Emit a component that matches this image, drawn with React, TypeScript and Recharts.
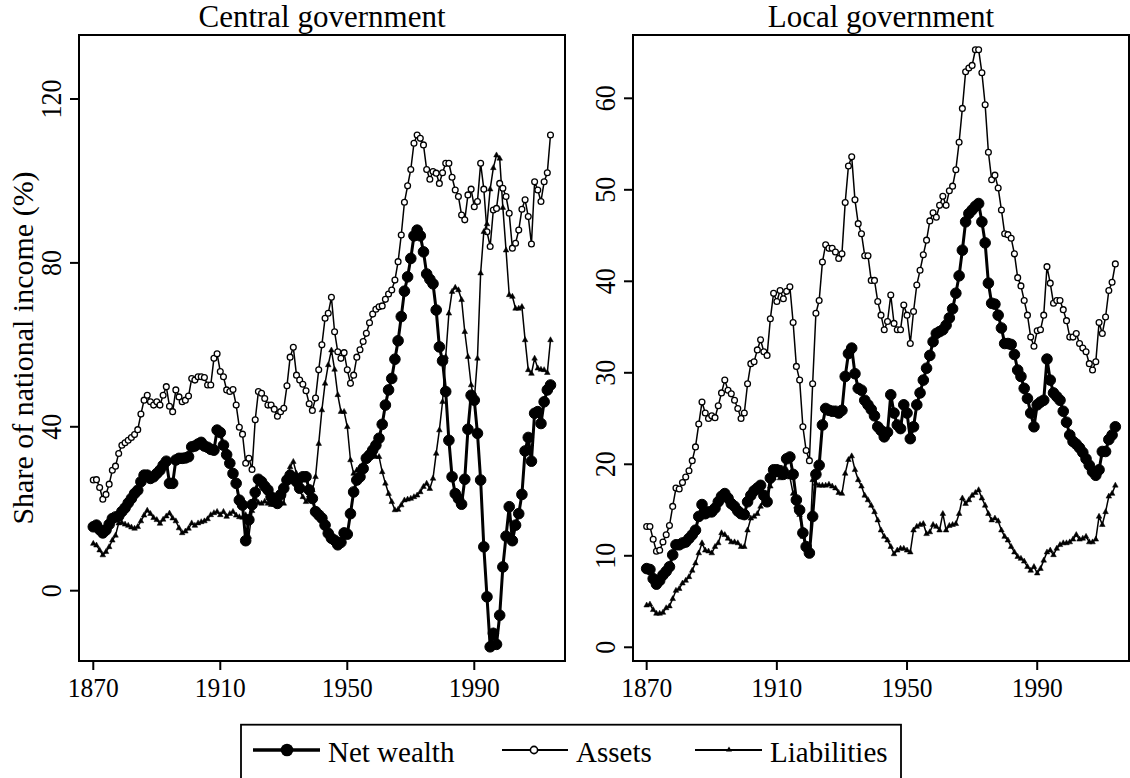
import React from 'react';
import { LineChart, Line, XAxis, YAxis, ReferenceArea } from 'recharts';

const FONT = '"Liberation Serif", "Times New Roman", Times, serif';

const START_YEAR = 1870;

// Central government (% of national income), 1870-2014
const centralNet = [
  15.6, 16.0, 14.9, 14.1, 14.8, 16.2, 17.6, 18.0, 18.2, 19.3,
  20.2, 21.4, 22.5, 23.7, 24.5, 26.6, 28.2, 28.2, 27.4, 27.8,
  28.6, 29.4, 30.6, 31.6, 26.2, 26.2, 31.9, 32.3, 32.3, 32.4,
  32.7, 35.1, 35.3, 35.8, 36.2, 35.3, 35.0, 34.5, 34.3, 39.2,
  38.6, 35.5, 33.2, 31.1, 28.6, 26.2, 22.1, 20.9, 12.2, 17.3,
  21.0, 24.0, 27.2, 26.6, 25.5, 24.6, 22.9, 22.0, 21.3, 23.4,
  25.0, 27.0, 28.2, 27.4, 26.6, 25.0, 27.8, 27.8, 24.6, 22.5,
  19.3, 18.5, 17.7, 16.0, 14.0, 12.8, 12.3, 11.2, 11.8, 14.1,
  13.8, 18.8, 24.1, 27.0, 27.8, 29.8, 32.3, 33.1, 34.3, 35.5,
  37.2, 40.6, 45.3, 49.0, 51.8, 56.5, 61.0, 66.9, 73.1, 76.6,
  81.1, 86.6, 88.0, 86.6, 82.7, 77.3, 76.0, 74.9, 68.5, 59.5,
  56.1, 48.6, 36.7, 27.8, 23.7, 22.5, 21.1, 27.2, 39.4, 47.7,
  46.5, 38.4, 27.0, 10.7, -1.5, -13.7, -10.4, -13.1, -6.0, 5.8,
  13.3, 20.5, 12.2, 16.0, 18.8, 23.5, 34.1, 37.4, 31.6, 43.3,
  43.7, 40.8, 46.1, 49.0, 50.2,
];

const centralAssets = [
  27.0, 27.1, 25.2, 22.3, 23.5, 26.0, 29.4, 30.4, 33.5, 35.5,
  36.1, 36.7, 37.4, 38.1, 39.3, 43.1, 46.5, 47.7, 46.1, 45.3,
  46.1, 45.3, 47.7, 49.8, 45.0, 43.7, 49.0, 47.3, 46.1, 46.5,
  47.5, 51.8, 51.4, 52.2, 52.2, 52.0, 50.2, 50.2, 56.7, 57.8,
  53.5, 52.2, 49.0, 48.6, 49.1, 45.3, 39.9, 38.2, 31.1, 32.3,
  29.6, 41.7, 48.6, 48.2, 46.9, 45.3, 45.3, 44.3, 42.6, 43.7,
  44.5, 50.0, 57.0, 59.4, 52.6, 51.4, 50.4, 48.8, 45.6, 44.0,
  47.0, 53.9, 60.0, 66.5, 67.7, 71.6, 63.2, 58.3, 56.7, 58.1,
  53.9, 50.6, 52.6, 57.0, 58.8, 60.8, 62.8, 65.4, 67.5, 68.7,
  69.3, 69.5, 71.1, 72.4, 73.4, 75.8, 80.3, 86.8, 94.8, 98.8,
  102.8, 109.2, 111.2, 110.4, 108.8, 102.8, 100.4, 102.3, 101.9, 99.4,
  102.0, 104.3, 104.3, 100.9, 97.8, 96.2, 91.7, 90.5, 96.6, 98.0,
  93.7, 95.0, 104.3, 98.0, 87.6, 84.0, 92.9, 93.3, 99.4, 98.2,
  96.2, 92.1, 83.6, 84.8, 88.0, 93.1, 95.4, 91.3, 84.6, 99.8,
  97.8, 95.0, 99.8, 102.0, 111.2,
];

const centralLiabilities = [
  11.5, 11.1, 9.9, 8.7, 9.5, 10.7, 12.3, 13.5, 16.5, 16.6,
  16.2, 15.9, 15.5, 15.2, 15.6, 17.0, 18.4, 19.6, 18.8, 17.8,
  17.3, 16.4, 17.4, 18.2, 18.9, 17.7, 17.0, 15.3, 14.1, 14.5,
  15.2, 16.5, 15.9, 16.5, 16.8, 17.0, 17.5, 18.5, 19.0, 19.3,
  18.5, 19.3, 18.1, 18.8, 19.3, 18.4, 18.0, 17.9, 18.5, 13.2,
  19.5, 22.5, 21.5, 21.3, 21.8, 21.3, 21.0, 21.0, 21.0, 21.5,
  21.3, 27.8, 30.2, 31.5, 28.6, 24.5, 22.9, 21.7, 23.3, 24.6,
  27.8, 35.9, 44.1, 50.6, 55.1, 58.7, 54.0, 47.8, 43.7, 43.7,
  40.0, 31.9, 28.6, 29.4, 30.2, 31.0, 32.3, 33.1, 33.5, 32.7,
  32.7, 29.0, 26.2, 23.7, 21.7, 19.7, 19.8, 20.9, 22.1, 22.3,
  22.5, 22.9, 23.3, 24.1, 25.4, 26.2, 24.9, 27.4, 33.5, 39.2,
  46.1, 57.1, 67.7, 73.0, 74.0, 73.4, 71.0, 63.2, 57.1, 50.2,
  46.5, 56.7, 77.5, 87.6, 89.5, 98.0, 103.2, 106.3, 105.5, 93.5,
  83.1, 72.2, 71.8, 68.9, 68.9, 69.3, 61.2, 53.9, 53.0, 56.7,
  54.3, 54.0, 53.9, 53.2, 61.2,
];

// Local government (% of national income), 1870-2014
const localNet = [
  8.6, 8.5, 7.5, 6.9, 7.3, 7.9, 8.3, 8.8, 10.1, 11.2,
  11.2, 11.4, 11.5, 11.9, 12.3, 12.8, 14.3, 15.6, 14.6, 14.8,
  14.8, 15.2, 15.9, 16.5, 16.8, 16.3, 15.7, 15.4, 14.9, 14.6,
  14.5, 15.9, 16.6, 17.1, 17.4, 17.7, 16.6, 15.9, 18.5, 19.4,
  19.4, 19.3, 18.9, 20.6, 20.8, 18.9, 16.1, 15.0, 12.5, 11.0,
  10.3, 14.3, 18.9, 19.9, 24.3, 26.1, 25.9, 25.8, 25.8, 25.6,
  25.9, 29.6, 32.1, 32.7, 29.9, 28.3, 28.1, 27.0, 26.5, 26.0,
  25.3, 24.1, 23.7, 23.0, 23.5, 27.6, 25.6, 24.3, 23.9, 26.5,
  25.6, 22.8, 24.1, 26.5, 27.8, 29.2, 30.5, 31.9, 33.4, 34.3,
  34.5, 34.7, 35.2, 36.0, 37.0, 38.7, 40.6, 43.4, 46.5, 47.4,
  47.8, 48.2, 48.5, 46.5, 44.2, 39.8, 37.6, 37.5, 36.3, 34.9,
  33.2, 33.2, 33.1, 32.0, 30.3, 29.6, 28.3, 27.2, 25.6, 24.1,
  26.5, 26.8, 27.0, 31.5, 29.2, 27.8, 27.4, 27.0, 25.8, 24.6,
  23.2, 22.5, 22.2, 21.8, 21.3, 20.6, 19.9, 19.2, 18.8, 19.4,
  21.4, 21.4, 22.7, 23.2, 24.1,
];

const localAssets = [
  13.2, 13.2, 11.8, 10.5, 10.6, 11.5, 12.3, 13.3, 15.4, 17.4,
  17.3, 18.0, 18.6, 19.3, 20.4, 21.9, 24.4, 26.8, 25.6, 25.0,
  25.3, 25.1, 26.4, 27.8, 29.2, 28.1, 27.7, 27.0, 26.1, 25.0,
  25.6, 28.8, 31.0, 31.2, 32.5, 33.6, 32.3, 31.9, 35.9, 38.7,
  37.8, 39.0, 38.1, 38.9, 39.4, 35.5, 30.7, 29.2, 24.1, 21.5,
  20.4, 28.8, 36.5, 37.9, 42.1, 44.0, 43.6, 43.6, 43.2, 42.5,
  43.0, 48.6, 52.6, 53.6, 48.9, 46.3, 45.2, 42.8, 42.8, 40.1,
  40.1, 37.8, 36.3, 34.7, 35.6, 38.5, 35.4, 34.7, 34.7, 37.4,
  36.3, 33.2, 36.7, 39.6, 41.2, 42.9, 44.5, 46.6, 47.5, 47.0,
  48.3, 49.3, 48.3, 49.9, 50.4, 52.2, 55.2, 58.9, 62.9, 63.3,
  63.6, 65.3, 65.3, 62.8, 59.3, 54.1, 51.1, 51.6, 50.2, 47.8,
  45.2, 45.1, 44.7, 43.0, 40.4, 39.5, 37.9, 36.3, 33.9, 32.9,
  34.6, 34.7, 36.3, 41.6, 39.8, 37.6, 37.9, 37.9, 36.9, 35.7,
  33.9, 33.9, 34.3, 33.2, 32.7, 32.3, 31.0, 30.3, 31.2, 35.5,
  34.3, 36.1, 39.0, 39.9, 41.9,
];

const localLiabilities = [
  4.6, 4.7, 4.1, 3.7, 3.7, 3.8, 4.3, 4.5, 5.3, 6.2,
  6.4, 7.0, 7.3, 7.7, 8.4, 9.2, 10.3, 11.4, 10.6, 10.5,
  10.3, 11.0, 11.4, 12.5, 12.3, 11.9, 11.5, 11.5, 11.4, 11.0,
  11.0, 12.8, 14.1, 14.3, 14.6, 15.4, 16.3, 16.6, 17.6, 18.5,
  18.8, 18.5, 19.0, 19.4, 18.6, 16.8, 15.4, 14.5, 12.1, 11.0,
  10.3, 18.3, 17.9, 17.7, 17.7, 17.7, 17.8, 17.6, 17.4, 16.9,
  16.8, 19.0, 20.5, 20.9, 19.4, 18.3, 17.6, 16.6, 16.1, 15.5,
  14.8, 13.9, 12.8, 12.1, 11.7, 11.0, 10.2, 10.6, 10.8, 10.8,
  10.6, 10.4, 12.8, 13.2, 13.4, 13.5, 12.4, 12.6, 13.4, 13.2,
  12.8, 14.6, 12.8, 13.3, 13.4, 13.5, 14.6, 16.3, 15.7, 16.1,
  16.6, 16.9, 17.2, 16.3, 15.5, 14.6, 13.9, 14.1, 13.8, 12.8,
  12.1, 11.7, 11.0, 10.4, 9.9, 9.7, 9.4, 8.8, 8.4, 8.8,
  8.1, 8.6, 9.5, 10.4, 10.6, 10.1, 10.8, 11.2, 11.4, 11.4,
  11.5, 11.8, 12.3, 11.8, 11.9, 12.1, 11.5, 11.5, 11.8, 14.3,
  13.4, 14.8, 16.5, 16.8, 17.7,
];

const years = centralNet.map((_, i) => START_YEAR + i);

const xTicks = [1870, 1910, 1950, 1990];
const centralYTicks = [0, 40, 80, 120];
const localYTicks = [0, 10, 20, 30, 40, 50, 60];

const seriesLabels = ['Net wealth', 'Assets', 'Liabilities'];
const panelTitles = ['Central government', 'Local government'];
const yAxisTitle = 'Share of national income (%)';

function buildRows(net: number[], assets: number[], liab: number[]) {
  return years.map((year, i) => ({ year, net: net[i], assets: assets[i], liab: liab[i] }));
}

const centralRows = buildRows(centralNet, centralAssets, centralLiabilities);
const localRows = buildRows(localNet, localAssets, localLiabilities);

const XTick = (props: any) => {
  const { x, y, payload } = props;
  return (
    <text
      transform={`translate(${x}, ${y + 25}) scale(1, 1.1)`}
      x={0}
      y={0}
      textAnchor="middle"
      fontFamily={FONT}
      fontSize={25.5}
      fill="#000"
    >
      {payload.value}
    </text>
  );
};

const YTick = (props: any) => {
  const { x, y, payload } = props;
  const bx = x - 7;
  return (
    <text
      transform={`translate(${bx}, ${y}) rotate(-90) scale(1, 1.12)`}
      x={0}
      y={0}
      textAnchor="middle"
      fontFamily={FONT}
      fontSize={26}
      fill="#000"
    >
      {payload.value}
    </text>
  );
};

const TriangleDot = (props: any) => {
  const { cx, cy } = props;
  if (cx == null || cy == null) return null;
  return (
    <path
      d={`M${cx},${cy - 3.2} L${cx + 2.8},${cy + 1.8} L${cx - 2.8},${cy + 1.8} Z`}
      fill="#000"
      stroke="#000"
      strokeWidth={0.5}
    />
  );
};

type PanelProps = {
  left: number;
  width: number;
  yAxisWidth: number;
  rightMargin: number;
  rows: any[];
  xDomain: [number, number];
  yDomain: [number, number];
  yTicks: number[];
};

const Panel = ({ left, width, yAxisWidth, rightMargin, rows, xDomain, yDomain, yTicks }: PanelProps) => (
  <div style={{ position: 'absolute', left, top: 0 }}>
    <LineChart
      width={width}
      height={711}
      data={rows}
      margin={{ top: 35, right: rightMargin, bottom: 0, left: 0 }}
    >
      <XAxis
        dataKey="year"
        type="number"
        domain={xDomain}
        ticks={xTicks}
        allowDataOverflow
        height={50}
        tickSize={9}
        axisLine={false}
        tickLine={{ stroke: '#000', strokeWidth: 2 }}
        tick={<XTick />}
        interval={0}
      />
      <YAxis
        type="number"
        domain={yDomain}
        ticks={yTicks}
        allowDataOverflow
        width={yAxisWidth}
        tickSize={9}
        axisLine={false}
        tickLine={{ stroke: '#000', strokeWidth: 2 }}
        tick={<YTick />}
        interval={0}
      />
      <ReferenceArea
        x1={xDomain[0]}
        x2={xDomain[1]}
        y1={yDomain[0]}
        y2={yDomain[1]}
        fill="#fff"
        fillOpacity={0}
        stroke="#000"
        strokeWidth={2}
        strokeOpacity={1}
        ifOverflow="visible"
      />
      <Line
        type="linear"
        dataKey="net"
        name={seriesLabels[0]}
        stroke="#000"
        strokeWidth={3}
        dot={{ r: 5.3, fill: '#000', stroke: '#000', strokeWidth: 1 }}
        activeDot={false}
        isAnimationActive={false}
      />
      <Line
        type="linear"
        dataKey="assets"
        name={seriesLabels[1]}
        stroke="#000"
        strokeWidth={1.5}
        dot={{ r: 2.9, fill: '#fff', stroke: '#000', strokeWidth: 1.3 }}
        activeDot={false}
        isAnimationActive={false}
      />
      <Line
        type="linear"
        dataKey="liab"
        name={seriesLabels[2]}
        stroke="#000"
        strokeWidth={1.5}
        dot={<TriangleDot />}
        activeDot={false}
        isAnimationActive={false}
      />
    </LineChart>
  </div>
);

const Overlay = () => (
  <svg
    width={1130}
    height={778}
    style={{ position: 'absolute', left: 0, top: 0, pointerEvents: 'none' }}
  >
    <text x={322} y={27} textAnchor="middle" fontFamily={FONT} fontSize={31} fill="#000">
      {panelTitles[0]}
    </text>
    <text x={881} y={27} textAnchor="middle" fontFamily={FONT} fontSize={31} fill="#000">
      {panelTitles[1]}
    </text>
    <text
      x={33}
      y={348}
      transform="rotate(-90, 33, 348)"
      textAnchor="middle"
      fontFamily={FONT}
      fontSize={30}
      fill="#000"
    >
      {yAxisTitle}
    </text>

    {/* legend */}
    <rect x={241} y={724.7} width={660} height={70} fill="none" stroke="#000" strokeWidth={1.8} />
    <line x1={253} x2={320} y1={750} y2={750} stroke="#000" strokeWidth={3.5} />
    <circle cx={287} cy={750} r={6.3} fill="#000" />
    <text x={328} y={762} fontFamily={FONT} fontSize={29} fill="#000">
      {seriesLabels[0]}
    </text>
    <line x1={502} x2={568} y1={750} y2={750} stroke="#000" strokeWidth={1.8} />
    <circle cx={534} cy={750} r={3.6} fill="#fff" stroke="#000" strokeWidth={1.6} />
    <text x={576} y={762} fontFamily={FONT} fontSize={29} fill="#000">
      {seriesLabels[1]}
    </text>
    <line x1={695} x2={762} y1={750} y2={750} stroke="#000" strokeWidth={1.8} />
    <path d="M729,746.6 L732,751.6 L726,751.6 Z" fill="#000" />
    <text x={770} y={762} fontFamily={FONT} fontSize={29} fill="#000">
      {seriesLabels[2]}
    </text>
  </svg>
);

export default function App() {
  return (
    <div
      style={{
        position: 'absolute',
        left: 0,
        top: 0,
        width: 1130,
        height: 778,
        overflow: 'hidden',
        background: '#fff',
      }}
    >
      <Panel
        left={0}
        width={575}
        yAxisWidth={79}
        rightMargin={10}
        rows={centralRows}
        xDomain={[1865.5, 2018.57]}
        yDomain={[-17.16, 135.62]}
        yTicks={centralYTicks}
      />
      <Panel
        left={573}
        width={557}
        yAxisWidth={60}
        rightMargin={1}
        rows={localRows}
        xDomain={[1865.8, 2018.2]}
        yDomain={[-1.5, 66.92]}
        yTicks={localYTicks}
      />
      <Overlay />
    </div>
  );
}
